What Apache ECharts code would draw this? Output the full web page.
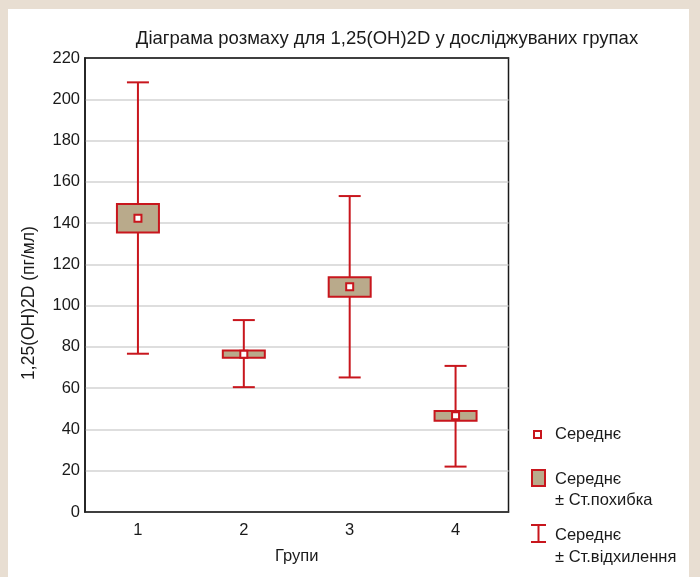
<!DOCTYPE html>
<html><head><meta charset="utf-8">
<style>html,body{margin:0;padding:0;background:#e8ded2;}#c{width:700px;height:577px;}</style>
<script src="https://cdn.jsdelivr.net/npm/echarts@6/dist/echarts.min.js"></script>
</head><body><div id="c"></div>
<script>
const groups = ['1','2','3','4'];
const means = [142.4, 76.5, 109.2, 46.6];
const seLow = [135.4, 74.7, 104.3, 44.2];
const seHigh = [149.3, 78.3, 113.7, 48.9];
const sdLow = [76.7, 60.5, 65.2, 22.0];
const sdHigh = [208.2, 93.0, 153.1, 70.8];
const yTicks = {min: 0, max: 220, interval: 20};
const titleText = 'Діаграма розмаху для 1,25(OH)2D у досліджуваних групах';
const yName = '1,25(OH)2D (пг/мл)';
const xName = 'Групи';
const legendLabels = ['Середнє', 'Середнє\n± Ст.похибка', 'Середнє\n± Ст.відхилення'];

const RED = '#c8161d', TAN = '#b9aa8b', FONT = 'Liberation Sans, Arial, sans-serif', TXT = '#1a1a1a';
const chart = echarts.init(document.getElementById('c'), null, {renderer: 'canvas'});

const boxData = groups.map((g, i) => [i, sdLow[i], seLow[i], seHigh[i], sdHigh[i]]);

const option = {
  backgroundColor: '#e8ded2',
  animation: false,
  title: {text: titleText, left: 382, top: 24, textAlign: 'center',
    textStyle: {fontFamily: FONT, fontSize: 18.5, fontWeight: 'normal', color: TXT}},
  grid: {left: 85, top: 58, right: 191.5, bottom: 65, show: true, borderColor: '#1a1a1a', borderWidth: 1.5, backgroundColor: 'transparent'},
  xAxis: [{
    type: 'category', data: groups, boundaryGap: true, position: 'bottom',
    name: xName, nameLocation: 'middle', nameGap: 36,
    nameTextStyle: {fontFamily: FONT, fontSize: 16.5, color: TXT},
    axisLine: {lineStyle: {color: '#1a1a1a', width: 1.5}},
    axisTick: {inside: true, alignWithLabel: true, length: 4, lineStyle: {color: '#1a1a1a', width: 1.5}},
    axisLabel: {fontFamily: FONT, fontSize: 16.5, color: TXT, margin: 10},
    splitLine: {show: false}
  }, {
    type: 'category', data: groups, boundaryGap: true, position: 'top',
    axisLine: {lineStyle: {color: '#1a1a1a', width: 1.5}},
    axisTick: {inside: true, alignWithLabel: true, length: 4, lineStyle: {color: '#1a1a1a', width: 1.5}},
    axisLabel: {show: false}, splitLine: {show: false}
  }],
  yAxis: {
    type: 'value', min: yTicks.min, max: yTicks.max, interval: yTicks.interval,
    name: yName, nameLocation: 'middle', nameGap: 47, nameRotate: 90,
    nameTextStyle: {fontFamily: FONT, fontSize: 17.5, color: TXT, padding: [0, 36, 0, 0]},
    axisLine: {show: true, lineStyle: {color: '#1a1a1a', width: 1.5}},
    axisTick: {show: false},
    axisLabel: {fontFamily: FONT, fontSize: 16.5, color: TXT, margin: 5},
    splitLine: {show: true, lineStyle: {color: '#d3d3d3', width: 1.5}}
  },
  graphic: [
    {type: 'rect', z: -10, silent: true, shape: {x: 8, y: 9, width: 681, height: 568}, style: {fill: '#ffffff'}},
    {type: 'rect', shape: {x: 534, y: 431, width: 7, height: 7}, style: {fill: '#fff', stroke: RED, lineWidth: 2}},
    {type: 'rect', shape: {x: 532, y: 470, width: 13, height: 16}, style: {fill: TAN, stroke: RED, lineWidth: 2}},
    {type: 'group', children: [
      {type: 'line', shape: {x1: 538.5, y1: 525, x2: 538.5, y2: 542}, style: {stroke: RED, lineWidth: 2}},
      {type: 'line', shape: {x1: 531, y1: 525, x2: 546, y2: 525}, style: {stroke: RED, lineWidth: 2}},
      {type: 'line', shape: {x1: 531, y1: 542, x2: 546, y2: 542}, style: {stroke: RED, lineWidth: 2}}
    ]},
    {type: 'text', left: 555, top: 426, style: {text: legendLabels[0], fontFamily: FONT, fontSize: 16.5, fill: TXT}},
    {type: 'text', left: 555, top: 469, style: {text: legendLabels[1], fontFamily: FONT, fontSize: 16.5, fill: TXT, lineHeight: 21}},
    {type: 'text', left: 555, top: 524, style: {text: legendLabels[2], fontFamily: FONT, fontSize: 16.5, fill: TXT, lineHeight: 22}}
  ],
  series: [{
    type: 'custom', xAxisIndex: 0, data: boxData, z: 3,
    renderItem: function (params, api) {
      const x = api.coord([api.value(0), 0])[0];
      const yLo = api.coord([api.value(0), api.value(1)])[1];
      const yBl = api.coord([api.value(0), api.value(2)])[1];
      const yBh = api.coord([api.value(0), api.value(3)])[1];
      const yHi = api.coord([api.value(0), api.value(4)])[1];
      const cap = 11, bw = 21;
      const ls = {stroke: RED, lineWidth: 2};
      return {type: 'group', children: [
        {type: 'line', shape: {x1: x, y1: yLo, x2: x, y2: yHi}, style: ls},
        {type: 'line', shape: {x1: x - cap, y1: yHi, x2: x + cap, y2: yHi}, style: ls},
        {type: 'line', shape: {x1: x - cap, y1: yLo, x2: x + cap, y2: yLo}, style: ls},
        {type: 'rect', shape: {x: x - bw, y: yBh, width: 2 * bw, height: yBl - yBh}, style: {fill: TAN, stroke: RED, lineWidth: 2}}
      ]};
    }
  }, {
    type: 'scatter', xAxisIndex: 0, z: 5, data: means.map((m, i) => [i, m]),
    symbol: 'rect', symbolSize: 7,
    itemStyle: {color: '#ffffff', borderColor: RED, borderWidth: 2, opacity: 1}
  }]
};
chart.setOption(option);
</script></body></html>
